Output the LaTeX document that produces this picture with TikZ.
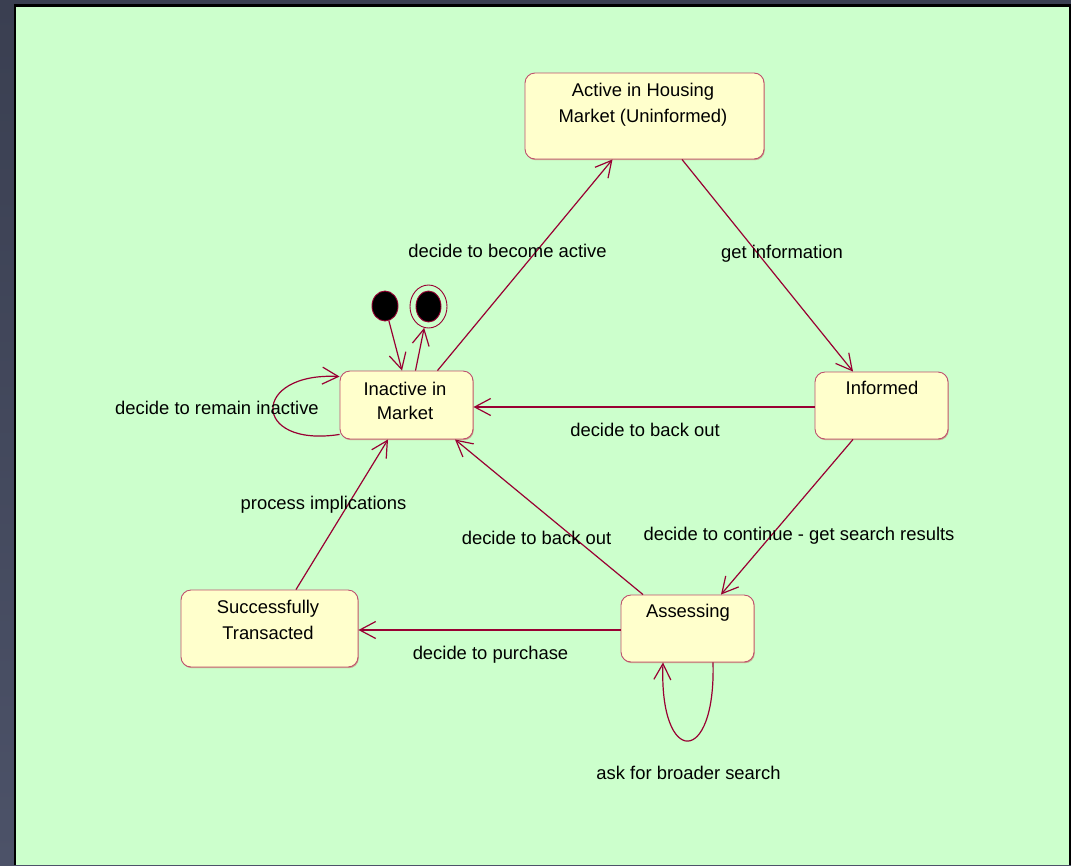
\documentclass[tikz,border=0pt]{standalone}
\usepackage{fontspec}
\setmainfont{Liberation Sans}
\usetikzlibrary{arrows.meta,shapes.geometric,shadows}

\definecolor{frame}{RGB}{58,63,81}
\definecolor{framelow}{RGB}{76,82,104}
\definecolor{canvas}{RGB}{204,255,204}
\definecolor{boxfill}{RGB}{255,255,204}
\definecolor{boxline}{RGB}{190,80,110}
\definecolor{boxshade}{RGB}{200,168,140}
\definecolor{wire}{RGB}{153,0,51}

\tikzset{
  statebox/.style={draw=boxline, line width=0.9pt, fill=boxfill, rounded corners=10pt,
    general shadow={fill=boxshade, shadow xshift=0.8pt, shadow yshift=-1.2pt}},
  % multi-line captions sit on the baseline of their last line
  boxtext/.style={font=\fontsize{18.4}{26}\selectfont, align=center, inner sep=0pt, anchor=base},
  lbl/.style={font=\fontsize{18.4}{22}\selectfont, inner sep=0pt, anchor=base},
  trans/.style={draw=wire, line width=1.2pt,
    -{Straight Barb[length=16pt, width=17pt, line width=1.2pt]}},
  pseudo/.style={ellipse, inner sep=0pt, draw=wire, line width=0.9pt},
}

\begin{document}
\begin{tikzpicture}[x=1pt, y=-1pt]
  \useasboundingbox (0,0) rectangle (1071,865);
  % window frame and drawing area
  \shade[top color=frame, bottom color=framelow] (0,0) rectangle (1071,865);
  \fill[black] (14,4) rectangle (1071,865);
  \fill[canvas] (16,7) rectangle (1069,865);

  % states
  \node[statebox, minimum width=239pt, minimum height=86pt] (act) at (644.5,116) {};
  \node[statebox, minimum width=133pt, minimum height=68pt] (inact) at (406.5,405) {};
  \node[statebox, minimum width=133pt, minimum height=67pt] (inf) at (881.5,405.5) {};
  \node[statebox, minimum width=133pt, minimum height=67pt] (ass) at (687.5,628.5) {};
  \node[statebox, minimum width=177pt, minimum height=77pt] (succ) at (269.5,628.5) {};

  \node[boxtext] (actT) at (643,122) {Active in Housing\\Market (Uninformed)};
  \node[boxtext, font=\fontsize{18.4}{24}\selectfont] (inactT) at (405,419) {Inactive in\\Market};
  \node[boxtext] (infT) at (882,394) {Informed};
  \node[boxtext] (assT) at (688,617.5) {Assessing};
  \node[boxtext] (succT) at (268,639) {Successfully\\Transacted};

  % initial and final pseudo-states
  \node[pseudo, fill=black, minimum width=26pt, minimum height=30pt] (init) at (385,306) {};
  \node[pseudo, minimum width=37pt, minimum height=43pt] (final) at (428.5,306.5) {};
  \node[pseudo, fill=black, minimum width=25pt, minimum height=31pt] (finalIn) at (428.5,306.5) {};

  % transitions
  \draw[trans] (init) -- ([xshift=-4.5pt]inact.north);
  \draw[trans] ([xshift=9pt]inact.north) -- (final);
  \draw[trans] ([xshift=31pt]inact.north) -- ([xshift=-32pt]act.south);
  \draw[trans] ([xshift=37.5pt]act.south) -- ([xshift=-28.5pt]inf.north);
  \draw[trans] ([yshift=-1.5pt]inf.west) -- ([yshift=-2pt]inact.east);
  \draw[trans] ([xshift=-28.5pt]inf.south) -- ([xshift=33.5pt]ass.north);
  \draw[trans] ([xshift=-44.5pt]ass.north) -- ([xshift=48.5pt]inact.south);
  \draw[trans] ([yshift=-1.5pt]ass.west) -- ([yshift=-1.5pt]succ.east);
  \draw[trans] ([xshift=26.5pt]succ.north) -- ([xshift=-18.5pt]inact.south);
  \draw[trans] ([yshift=5pt]inact.south west)
    .. controls (251,448) and (251,372) .. ([yshift=-6pt]inact.north west);
  \draw[trans] ([xshift=25.5pt]ass.south)
    .. controls (716,767) and (659,767) .. ([xshift=-24.5pt]ass.south);

  % transition labels
  \node[lbl] (l1) at (507.5,257) {decide to become active};
  \node[lbl] (l2) at (782,258) {get information};
  \node[lbl] (l3) at (217,414) {decide to remain inactive};
  \node[lbl] (l4) at (645,436) {decide to back out};
  \node[lbl] (l5) at (323.5,509) {process implications};
  \node[lbl] (l6) at (536.5,544) {decide to back out};
  \node[lbl] (l7) at (799,540) {decide to continue - get search results};
  \node[lbl] (l8) at (490.5,659) {decide to purchase};
  \node[lbl] (l9) at (688.5,779) {ask for broader search};
\end{tikzpicture}
\end{document}
